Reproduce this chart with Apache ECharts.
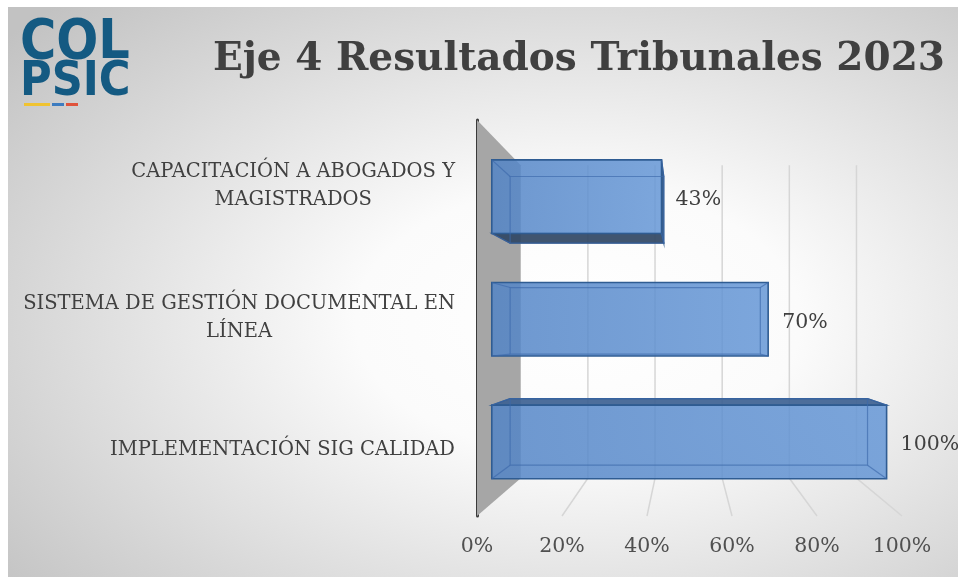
<!DOCTYPE html>
<html>
<head>
<meta charset="utf-8">
<script src="https://cdn.jsdelivr.net/npm/echarts@6/dist/echarts.min.js"></script>
<style>
  html, body { margin: 0; padding: 0; background: #fff; }
  #chart { width: 958px; height: 577px; }
</style>
</head>
<body>
<div id="chart"></div>
<script>
const categories = [
  'CAPACITACIÓN A ABOGADOS Y\nMAGISTRADOS',
  'SISTEMA DE GESTIÓN DOCUMENTAL EN\nLÍNEA',
  'IMPLEMENTACIÓN SIG CALIDAD'
];
const values = [43, 70, 100];
const ticks = [0, 20, 40, 60, 80, 100];

// perspective of the old 3D excel chart: everything is projected toward a vanishing point
const D_WALL = 0.79;
const D_BAR_FRONT = 0.929;
const D_BAR_BACK = 0.841;
const SERIF = '"DejaVu Serif", "Liberation Serif", serif';

function vanish(cs) {
  return [cs.x + cs.width * 0.49, cs.y + cs.height * 0.545];
}
function proj(p, d, vp) {
  return [vp[0] + (p[0] - vp[0]) * d, vp[1] + (p[1] - vp[1]) * d];
}

let chart = echarts.init(document.getElementById('chart'));

const option = {
  animation: false,
  graphic: [
    {
      type: 'rect', x: 8, y: 7, z: -10, scaleX: 950 / 570,
      shape: { x: 0, y: 0, width: 570, height: 570 },
      style: {
        fill: new echarts.graphic.RadialGradient(0.6, 0.55, 0.78, [
          { offset: 0, color: '#ffffff' },
          { offset: 0.3, color: '#fbfbfb' },
          { offset: 1, color: '#c2c2c2' }
        ])
      }
    },
    {
      type: 'text', x: 213, y: 60, z: 5,
      style: {
        text: 'Eje 4 Resultados Tribunales 2023',
        font: 'bold 39px ' + SERIF, fill: '#404040', verticalAlign: 'middle'
      }
    },
    {
      type: 'text', x: 20, y: 44, z: 5,
      style: { text: 'COL', font: 'bold 55px "Liberation Sans Narrow", "DejaVu Sans Condensed", sans-serif', fill: '#145a82', verticalAlign: 'middle' }
    },
    {
      type: 'text', x: 20, y: 83, z: 5,
      style: { text: 'PSIC', font: 'bold 48px "Liberation Sans Narrow", "DejaVu Sans Condensed", sans-serif', fill: '#145a82', verticalAlign: 'middle' }
    },
    { type: 'rect', z: 5, shape: { x: 24, y: 103, width: 26, height: 3 }, style: { fill: '#f0c331' } },
    { type: 'rect', z: 5, shape: { x: 52, y: 103, width: 12, height: 3 }, style: { fill: '#3d7cc0' } },
    { type: 'rect', z: 5, shape: { x: 66, y: 103, width: 12, height: 3 }, style: { fill: '#e0533b' } }
  ],
  grid: { left: 477, right: 56, top: 120, bottom: 61 },
  xAxis: {
    type: 'value', min: 0, max: 100, interval: 20,
    axisLine: { show: false }, axisTick: { show: false }, splitLine: { show: false },
    axisLabel: {
      formatter: '{value}%', margin: 20,
      fontFamily: SERIF, fontSize: 20.5, color: '#505050'
    }
  },
  yAxis: {
    type: 'category', data: categories, inverse: true,
    axisTick: { show: false },
    axisLine: { show: true, lineStyle: { color: '#3a3a3a', width: 3, cap: 'round' } },
    axisLabel: {
      margin: 22,
      formatter: (v) => v.split('\n').map(s => '{c|' + s + '}').join('\n'),
      rich: {
        c: { align: 'center', fontFamily: SERIF, fontSize: 19.5, lineHeight: 28, color: '#404040' }
      }
    }
  },
  series: [
    {
      // grey side wall
      type: 'custom', z: 1, silent: true,
      data: [[0, 0]],
      renderItem: (params, api) => {
        const cs = params.coordSys;
        const vp = vanish(cs);
        const a = [cs.x, cs.y], b = [cs.x, cs.y + cs.height];
        return {
          type: 'polygon',
          shape: { points: [a, proj(a, D_WALL, vp), proj(b, D_WALL, vp), b] },
          style: { fill: '#a6a6a6' }
        };
      }
    },
    {
      // back wall and floor gridlines
      type: 'custom', z: 1, silent: true,
      data: ticks.slice(1).map(t => [t, 0]),
      renderItem: (params, api) => {
        const cs = params.coordSys;
        const vp = vanish(cs);
        const x = api.coord([api.value(0), 0])[0];
        const top = proj([x, cs.y], D_WALL, vp);
        const fb = [x, cs.y + cs.height];
        const bb = proj(fb, D_WALL, vp);
        return {
          type: 'polyline',
          shape: { points: [top, bb, fb] },
          style: { stroke: '#d6d6d6', lineWidth: 1.5, fill: null }
        };
      }
    },
    {
      type: 'custom', z: 3,
      data: values.map((v, i) => [v, i]),
      encode: { x: 0, y: 1 },
      renderItem: (params, api) => {
        const cs = params.coordSys;
        const vp = vanish(cs);
        const v = api.value(0), c = api.value(1);
        const p0 = api.coord([0, c]), p1 = api.coord([v, c]);
        const h = api.size([0, 1])[1] * 0.6;
        const y0 = p0[1] - h / 2, y1 = p0[1] + h / 2;
        const corners = [[p0[0], y0], [p1[0], y0], [p1[0], y1], [p0[0], y1]];
        const F = corners.map(p => proj(p, D_BAR_FRONT, vp));
        const B = corners.map(p => proj(p, D_BAR_BACK, vp));
        const kids = [];
        if (B[0][1] < F[0][1]) {
          kids.push({ type: 'polygon', shape: { points: [F[0], F[1], B[1], B[0]] }, style: { fill: 'rgba(62,98,146,0.92)', stroke: '#2f5a8c', lineWidth: 1.2 } });
        }
        if (B[3][1] > F[3][1]) {
          kids.push({ type: 'polygon', shape: { points: [F[3], F[2], B[2], B[3]] }, style: { fill: 'rgba(48,70,100,0.92)', stroke: '#2f4f78', lineWidth: 1.2 } });
        }
        if (B[1][0] > F[1][0]) {
          kids.push({ type: 'polygon', shape: { points: [F[1], B[1], B[2], F[2]] }, style: { fill: 'rgba(50,85,130,0.92)', stroke: '#2f5a8c', lineWidth: 1.2 } });
        }
        kids.push({
          type: 'polygon', shape: { points: F },
          style: {
            fill: new echarts.graphic.LinearGradient(0, 0, 1, 0, [
              { offset: 0, color: 'rgba(82,132,198,0.84)' },
              { offset: 1, color: 'rgba(100,150,214,0.84)' }
            ]),
            stroke: '#2f5c92', lineWidth: 1.6
          }
        });
        // edges of the back of the box seen through the glass-like bar
        kids.push({ type: 'polygon', shape: { points: B }, style: { fill: null, stroke: 'rgba(60,105,170,0.65)', lineWidth: 1.2 } });
        for (let k = 0; k < 4; k++) {
          kids.push({ type: 'line', shape: { x1: F[k][0], y1: F[k][1], x2: B[k][0], y2: B[k][1] }, style: { stroke: 'rgba(60,105,170,0.65)', lineWidth: 1.2 } });
        }
        kids.push({
          type: 'text', x: F[1][0] + 14, y: (F[1][1] + F[2][1]) / 2 + 3,
          style: { text: v + '%', font: '20.5px ' + SERIF, fill: '#404040', verticalAlign: 'middle' }
        });
        return { type: 'group', children: kids };
      }
    }
  ]
};

chart.setOption(option);
</script>
</body>
</html>
